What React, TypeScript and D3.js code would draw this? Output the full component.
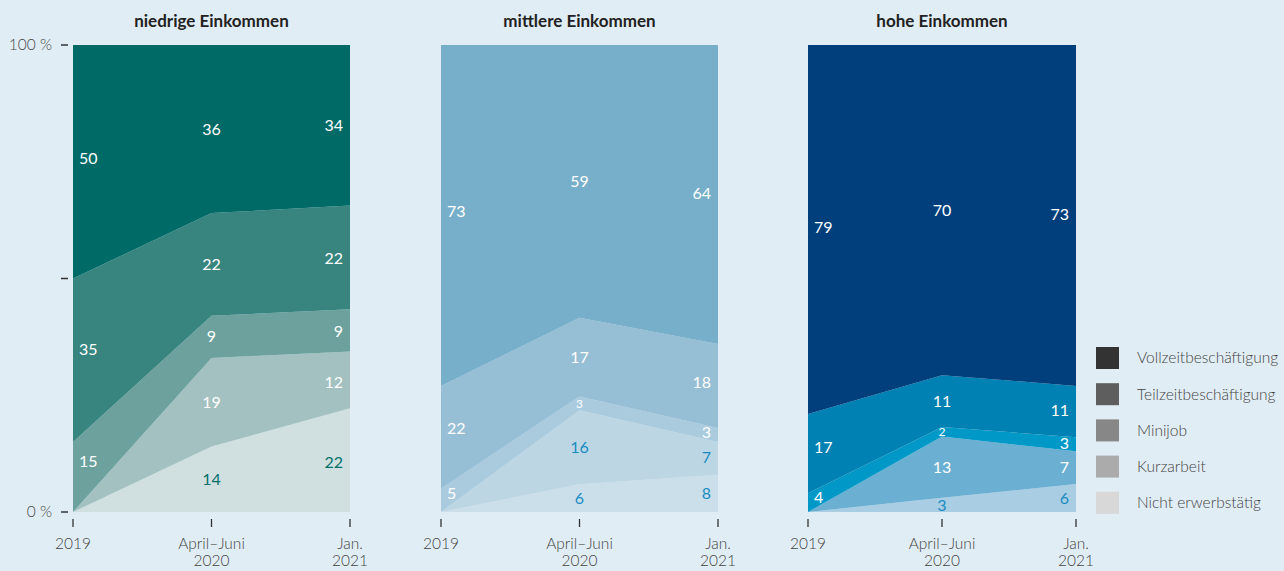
import React from 'react';
import * as d3 from 'd3';

const periods = ['2019', 'April–Juni 2020', 'Jan. 2021'];
const periodLines = [['2019'], ['April–Juni', '2020'], ['Jan.', '2021']];
const series = ['Vollzeitbeschäftigung', 'Teilzeitbeschäftigung', 'Minijob', 'Kurzarbeit', 'Nicht erwerbstätig'];
const legendColors = ['#333333', '#5e5e5e', '#878787', '#ababab', '#d8d8d8'];
const yTicks = [0, 0.5, 1];

// values per series, in the order of `series`, one per period
const niedrig = [[50, 36, 34], [35, 22, 22], [15, 9, 9], [0, 19, 12], [0, 14, 22]];
const mittel = [[73, 59, 64], [22, 17, 18], [5, 3, 3], [0, 16, 7], [0, 6, 8]];
const hoch = [[79, 70, 73], [17, 11, 11], [4, 2, 3], [0, 13, 7], [0, 3, 6]];

const panels = [
  {
    title: 'niedrige Einkommen', data: niedrig, x0: 73, x1: 350,
    colors: ['#006a66', '#38857f', '#6ca19e', '#a2c1c0', '#d0e0e0'],
    labelColors: ['#fff', '#fff', '#fff', '#fff', '#00706a'],
  },
  {
    title: 'mittlere Einkommen', data: mittel, x0: 441, x1: 718,
    colors: ['#77afca', '#96bed4', '#aacbde', '#bdd6e4', '#cadfea'],
    labelColors: ['#fff', '#fff', '#fff', '#1a8cc2', '#1a8cc2'],
  },
  {
    title: 'hohe Einkommen', data: hoch, x0: 808, x1: 1076,
    colors: ['#003f7c', '#0081b3', '#0099c7', '#6bb0d3', '#a9cde2'],
    labelColors: ['#fff', '#fff', '#fff', '#fff', '#1a8cc2'],
  },
];

const top = 45;
const bottom = 512;
const font = 'Lato, "Open Sans", sans-serif';

function Panel({p, showAxis}) {
  const x = d3.scalePoint().domain(periods).range([p.x0, p.x1]);
  const y = d3.scaleLinear().domain([0, 1]).range([bottom, top]);
  const step = x.step();

  const rows = periods.map((per, i) => {
    const r = {period: per};
    series.forEach((s, k) => { r[s] = p.data[k][i]; });
    return r;
  });
  const keys = [...series].reverse();
  const stacked = d3.stack().keys(keys).offset(d3.stackOffsetExpand)(rows);
  const area = d3.area()
      .x((d) => x(d.data.period))
      .y0((d) => y(d[0]))
      .y1((d) => y(d[1]));

  // band middle at a given x inside the panel
  const midAt = (layer, cx) => {
    const f = Math.max(0, Math.min(periods.length - 1.0001, (cx - p.x0) / step));
    const i = Math.floor(f);
    const t = f - i;
    const lo = layer[i][0] * (1 - t) + layer[i + 1][0] * t;
    const hi = layer[i][1] * (1 - t) + layer[i + 1][1] * t;
    return (y(lo) + y(hi)) / 2;
  };

  return (
    <g>
      <text x={(p.x0 + p.x1) / 2} y={27} textAnchor="middle" fontFamily={font}
        fontWeight={700} fontSize={17} fill="#222">{p.title}</text>
      {stacked.map((layer) => {
        const k = series.indexOf(layer.key);
        return <path key={layer.key} d={area(layer)} fill={p.colors[k]} />;
      })}
      {stacked.map((layer) => {
        const k = series.indexOf(layer.key);
        return layer.map((d, i) => {
          const v = p.data[k][i];
          if (!v) return null;
          const px = x(d.data.period);
          const last = i === periods.length - 1;
          const anchor = i === 0 ? 'start' : last ? 'end' : 'middle';
          const dx = i === 0 ? 6 : last ? -7 : 0;
          const half = String(v).length * 4.5;
          const cx = px + dx + (i === 0 ? half : last ? -half : 0);
          const small = i === 1 && layer.key === 'Minijob' && v < 4;
          return (
            <text key={layer.key + i} x={px + dx} y={midAt(layer, cx)}
              dy="0.35em" textAnchor={anchor} fontFamily={font}
              fontSize={small ? 12 : 16} fill={p.labelColors[k]}>{v}</text>
          );
        });
      })}
      {periods.map((per, i) => (
        <g key={per} transform={`translate(${x(per)},0)`}>
          <line y1={519} y2={527} stroke="#333" strokeWidth={1.3} />
          {periodLines[i].map((t, j) => (
            <text key={t} y={549 + j * 17} textAnchor="middle" fontFamily={font}
              fontWeight={300} fontSize={15.5} fill="#444">{t}</text>
          ))}
        </g>
      ))}
      {showAxis && yTicks.map((t) => (
        <g key={t} transform={`translate(0,${y(t)})`}>
          <line x1={61} x2={68} stroke="#333" strokeWidth={1.5} />
          {t !== 0.5 && (
            <text x={52} dy="0.35em" textAnchor="end" fontFamily={font}
              fontWeight={300} fontSize={15.5} fill="#444">{`${t * 100} %`}</text>
          )}
        </g>
      ))}
    </g>
  );
}

export default function App() {
  return (
    <svg width={1284} height={571}
      style={{position: 'absolute', left: 0, top: 0, background: '#e1edf5'}}>
      {panels.map((p, i) => <Panel key={p.title} p={p} showAxis={i === 0} />)}
      {series.map((s, i) => (
        <g key={s} transform={`translate(1096,${347 + i * 36.2})`}>
          <rect width={23} height={22} fill={legendColors[i]} />
          <text x={41} y={11} dy="0.35em" fontFamily={font} fontWeight={300}
            fontSize={15.5} fill="#444">{s}</text>
        </g>
      ))}
    </svg>
  );
}
